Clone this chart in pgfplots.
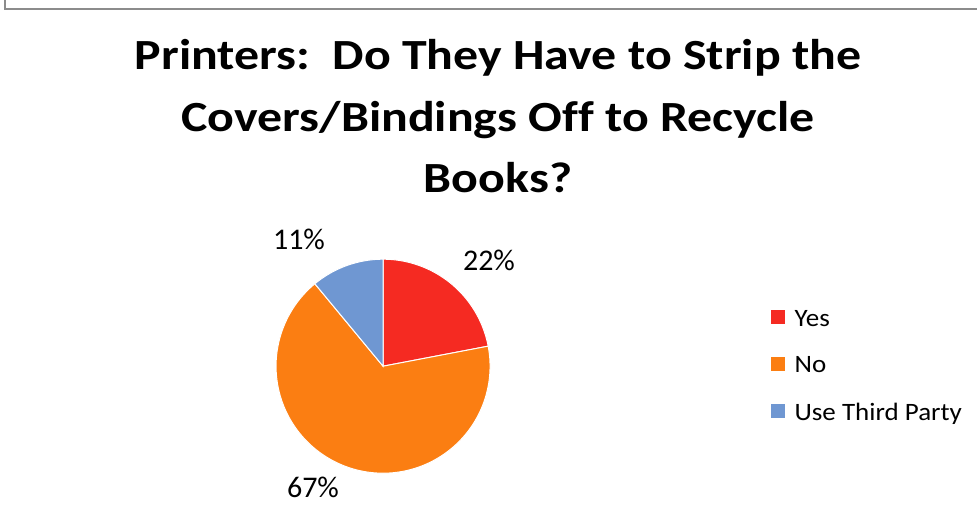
\documentclass[border=0pt]{standalone}
\usepackage{fontspec}
\setmainfont{Carlito}
\newfontfamily\titlefont[FakeStretch=1.16,Ligatures=NoCommon]{Carlito}
\newfontfamily\legfont[FakeStretch=1.08]{Carlito}
\usepackage{pgfplots}
\pgfplotsset{compat=1.18}
\usepgfplotslibrary{polar}
\definecolor{cyes}{HTML}{F52A22}
\definecolor{cno}{HTML}{FB7E12}
\definecolor{cthird}{HTML}{6F97D2}
\definecolor{frame}{HTML}{8C8C8C}
\begin{document}
\begin{tikzpicture}[x=1pt,y=1pt]
\path[use as bounding box] (0,0) rectangle (977,516);
\draw[frame,line width=1.6pt] (5,516) -- (5,507) -- (977,507);
\node[anchor=base,font=\titlefont\fontsize{43}{50}\selectfont\bfseries] at (498,446) {Printers:\ \ Do They Have to Strip the};
\node[anchor=base,font=\titlefont\fontsize{43}{50}\selectfont\bfseries] at (498,384.5) {Covers/Bindings Off to Recycle};
\node[anchor=base,font=\titlefont\fontsize{43}{50}\selectfont\bfseries] at (498,323) {Books?};
\begin{polaraxis}[
  at={(358,140)}, anchor=center,
  scale only axis, width=214pt, height=214pt,
  ymin=0, ymax=1, hide axis, clip=false,
  legend cell align=left,
  legend style={draw=none, fill=none, at={(2.31,0.50)}, anchor=west,
    font=\legfont\fontsize{25}{29}\selectfont, row sep=25pt, inner sep=0pt},
  legend image code/.code={\fill[#1,draw=none] (0pt,-5pt) rectangle (14pt,9pt);\path[draw=none,fill=none] (0pt,0pt) -- (22pt,0pt);},
]
% Yes 22%, No 67%, Use Third Party 11% (clockwise from 90 deg)
\addplot[fill=cyes, draw=white, line width=1pt, domain=10.8:90, samples=60] {1} -- (axis cs:0,0) -- cycle;
\addlegendentry{Yes}
\addplot[fill=cno, draw=white, line width=1pt, domain=-230.4:10.8, samples=150] {1} -- (axis cs:0,0) -- cycle;
\addlegendentry{No}
\addplot[fill=cthird, draw=white, line width=1pt, domain=-270:-230.4, samples=30] {1} -- (axis cs:0,0) -- cycle;
\addlegendentry{Use Third Party}
\end{polaraxis}
\node[anchor=base,font=\fontsize{30}{34}\selectfont] at (489,245) {22\%};
\node[anchor=base,font=\fontsize{30}{34}\selectfont] at (299,266) {11\%};
\node[anchor=base,font=\fontsize{30}{34}\selectfont] at (313,18) {67\%};
\end{tikzpicture}
\end{document}
